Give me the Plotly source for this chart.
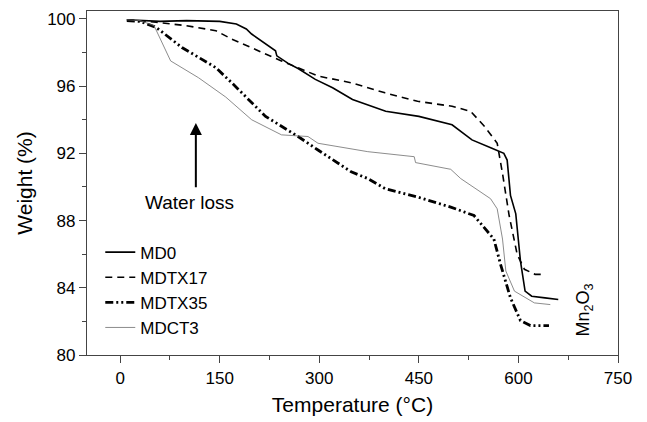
import plotly.graph_objects as go

# ---- data (Temperature in °C, Weight in %) ----
md0_t = [10, 30, 60, 100, 130, 150, 175, 190, 198, 212, 234, 236, 253, 268, 294, 320, 350, 400, 450, 500, 530, 560, 578, 583, 588, 596, 603, 610, 620, 640, 660]
md0_w = [99.95, 99.9, 99.85, 99.9, 99.85, 99.85, 99.7, 99.4, 99.1, 98.7, 98.1, 97.8, 97.35, 97.05, 96.4, 95.9, 95.2, 94.5, 94.2, 93.7, 92.8, 92.3, 92.0, 91.6, 89.5, 88.4, 85.6, 83.8, 83.5, 83.4, 83.3]

mdtx17_t = [10, 30, 54, 99, 144, 168, 208, 243, 298, 348, 399, 448, 500, 528, 549, 568, 576, 586, 598, 609, 625, 639]
mdtx17_w = [99.95, 99.9, 99.8, 99.6, 99.3, 98.8, 98.1, 97.5, 96.6, 96.2, 95.6, 95.1, 94.8, 94.5, 93.6, 92.6, 90.8, 88.3, 86.0, 85.1, 84.8, 84.8]

mdtx35_t = [10, 30, 54, 93, 144, 168, 219, 268, 298, 348, 373, 399, 448, 498, 533, 563, 573, 588, 603, 618, 646]
mdtx35_w = [99.9, 99.85, 99.5, 98.3, 97.1, 96.2, 94.2, 93.0, 92.2, 90.9, 90.5, 89.9, 89.4, 88.8, 88.3, 86.9, 85.4, 83.4, 82.05, 81.75, 81.75]

mdct3_t = [10, 30, 51, 76, 118, 159, 198, 243, 283, 298, 373, 443, 445, 498, 513, 558, 568, 576, 581, 594, 624, 648]
mdct3_w = [99.95, 99.9, 99.6, 97.5, 96.5, 95.35, 94.0, 93.1, 93.0, 92.6, 92.1, 91.8, 91.45, 91.05, 90.5, 89.3, 88.7, 86.9, 85.0, 83.8, 83.1, 83.0]

x_ticks = [0, 150, 300, 450, 600, 750]
y_ticks = [80, 84, 88, 92, 96, 100]

FONT = "Liberation Sans, Arial, sans-serif"

fig = go.Figure()
fig.add_trace(go.Scatter(x=md0_t, y=md0_w, mode="lines", name="MD0",
                         line=dict(color="black", width=1.6)))
fig.add_trace(go.Scatter(x=mdtx17_t, y=mdtx17_w, mode="lines", name="MDTX17",
                         line=dict(color="black", width=1.6, dash="7px,5px")))
fig.add_trace(go.Scatter(x=mdtx35_t, y=mdtx35_w, mode="lines", name="MDTX35",
                         line=dict(color="black", width=2.8, dash="8px,3px,2px,3px,2px,3px")))
fig.add_trace(go.Scatter(x=mdct3_t, y=mdct3_w, mode="lines", name="MDCT3",
                         line=dict(color="#6e6e6e", width=0.8)))

axis_common = dict(
    showgrid=False, zeroline=False, showline=True, linecolor="#444", linewidth=1.2,
    mirror=True, ticks="outside", ticklen=7, tickwidth=1, tickcolor="#444",
    tickfont=dict(family=FONT, size=17, color="black"),
)

fig.update_xaxes(range=[-50, 750], tickvals=x_ticks,
                 minor=dict(dtick=75, tick0=0, ticks="outside", ticklen=4, tickcolor="#444"),
                 title=dict(text="Temperature (°C)", font=dict(family=FONT, size=21, color="black"), standoff=10),
                 **axis_common)
fig.update_yaxes(range=[80, 100.47], tickvals=y_ticks,
                 minor=dict(dtick=2, tick0=80, ticks="outside", ticklen=4, tickcolor="#444"),
                 title=dict(text="Weight (%)", font=dict(family=FONT, size=21, color="black"), standoff=8),
                 **axis_common)

fig.add_annotation(x=114, y=93.8, ax=114, ay=89.9, xref="x", yref="y", axref="x", ayref="y",
                   text="", showarrow=True, arrowhead=2, arrowsize=1.2, arrowwidth=2, arrowcolor="black")
fig.add_annotation(x=105, y=89.1, xref="x", yref="y", text="Water loss", showarrow=False,
                   font=dict(family=FONT, size=19, color="black"))
fig.add_annotation(x=700, y=82.7, xref="x", yref="y", text="Mn<sub>2</sub>O<sub>3</sub>", showarrow=False,
                   textangle=-90, font=dict(family=FONT, size=18, color="black"))

fig.update_layout(
    width=647, height=422,
    margin=dict(l=87, r=29, t=10, b=64),
    plot_bgcolor="white", paper_bgcolor="white",
    showlegend=True,
    legend=dict(x=0.025, y=0.35, xanchor="left", yanchor="top",
                bgcolor="rgba(0,0,0,0)", font=dict(family=FONT, size=17, color="black"),
                itemwidth=30, tracegroupgap=0),
)

fig.write_html("out.html")
